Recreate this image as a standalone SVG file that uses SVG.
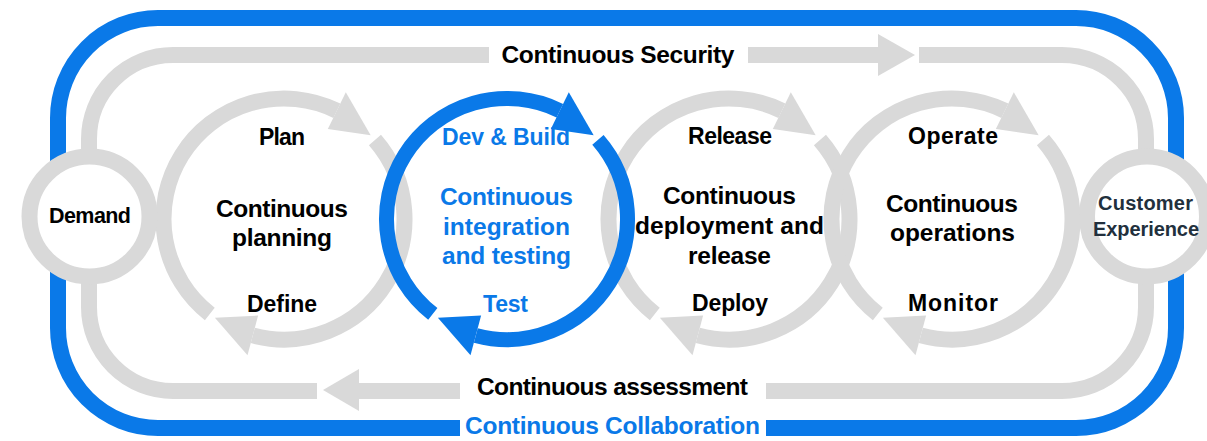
<svg xmlns="http://www.w3.org/2000/svg" xmlns:xlink="http://www.w3.org/1999/xlink" width="1207" height="441" viewBox="0 0 1207 441">
<style>
.blue-line{fill:none;stroke:#0a79e8;stroke-width:16;stroke-linecap:butt}
.gray-line{fill:none;stroke:#d9d9d9;stroke-width:16;stroke-linecap:butt}
.gray-head{fill:#d9d9d9}
.arc{fill:none;stroke:currentColor}
.head{fill:currentColor}
.hub{fill:#ffffff;stroke:#d9d9d9;stroke-width:16}
text{font-family:"Liberation Sans",Arial,sans-serif;font-weight:bold;text-anchor:middle}
.big{font-size:24.5px;fill:#000}
.lbl{font-size:23px;fill:#000}
.bl{fill:#0a79e8}
.hubt{font-size:21.5px;fill:#000}
.cx{font-size:20px;fill:#22303d}
</style>
<defs>
<g id="loop">
<path class="arc" d="M90.94 -79.06 A120.5 120.5 0 0 1 -31.19 116.39"/>
<path class="arc" d="M-74.19 94.95 A120.5 120.5 0 0 1 52.83 -108.31"/>
<path class="head" d="M43.84 -89.88 L61.81 -126.73 L86.68 -83.71 Z"/>
<path class="head" d="M-25.88 96.59 L-36.49 136.19 L-69.12 98.71 Z"/>
</g>
</defs>
<rect width="1207" height="441" fill="#ffffff"/>
<g id="connectors">
<path class="blue-line" d="M460 428 H158 A100 100 0 0 1 58 328 V118 A100 100 0 0 1 158 18 H1076 A100 100 0 0 1 1176 118 V328 A100 100 0 0 1 1076 428 H766"/>
<path class="gray-line" d="M489 55 H173 A84 84 0 0 0 89 139 V307 A84 84 0 0 0 173 391 H317"/>
<path class="gray-line" d="M359 391 H460"/>
<path class="gray-line" d="M766 391 H1062 A84 84 0 0 0 1146 307 V139 A84 84 0 0 0 1062 55 H919"/>
<path class="gray-line" d="M748 55 H878"/>
<path class="gray-head" d="M878 34 L915 55 L878 76 Z"/>
<path class="gray-head" d="M359 369 L323 390 L359 411 Z"/>
<text class="big" x="618" y="63" textLength="233">Continuous Security</text>
<text class="big" x="612.5" y="395" textLength="271">Continuous assessment</text>
<text class="big bl" x="612.5" y="434" textLength="295">Continuous Collaboration</text>
</g>
<g id="planning">
<use xlink:href="#loop" href="#loop" x="284" y="219" stroke-width="16" style="color:#d9d9d9"/>
<text class="lbl" x="282" y="145" textLength="46">Plan</text>
<text class="big" x="282" y="217" textLength="132">Continuous</text>
<text class="big" x="282" y="246" textLength="100">planning</text>
<text class="lbl" x="282" y="312" textLength="70">Define</text>
</g>
<g id="release">
<use xlink:href="#loop" href="#loop" x="729" y="219" stroke-width="16" style="color:#d9d9d9"/>
<text class="lbl" x="730" y="144" textLength="84">Release</text>
<text class="big" x="729.5" y="204" textLength="133">Continuous</text>
<text class="big" x="729.5" y="234" textLength="189">deployment and</text>
<text class="big" x="729.5" y="264" textLength="83">release</text>
<text class="lbl" x="730" y="311" textLength="76">Deploy</text>
</g>
<g id="operate">
<use xlink:href="#loop" href="#loop" x="952" y="219" stroke-width="16" style="color:#d9d9d9"/>
<text class="lbl" x="953" y="144" textLength="90">Operate</text>
<text class="big" x="952" y="212" textLength="132">Continuous</text>
<text class="big" x="952.5" y="241" textLength="125">operations</text>
<text class="lbl" x="953" y="311" textLength="90">Monitor</text>
</g>
<g id="devbuild">
<use xlink:href="#loop" href="#loop" x="507" y="219" stroke-width="15" style="color:#0a79e8"/>
<text class="lbl bl" x="506" y="145" textLength="128">Dev &amp; Build</text>
<text class="big bl" x="506.5" y="205" textLength="133">Continuous</text>
<text class="big bl" x="506.5" y="235" textLength="127">integration</text>
<text class="big bl" x="506.5" y="264" textLength="129">and testing</text>
<text class="lbl bl" x="505.5" y="312" textLength="45">Test</text>
</g>
<g id="demand">
<circle class="hub" cx="89.5" cy="216.5" r="60"/>
<text class="hubt" x="90" y="223" textLength="82">Demand</text>
</g>
<g id="customer">
<circle class="hub" cx="1147" cy="216.5" r="60"/>
<text class="cx" x="1145.5" y="210" textLength="95">Customer</text>
<text class="cx" x="1146" y="236" textLength="106">Experience</text>
</g>
</svg>
